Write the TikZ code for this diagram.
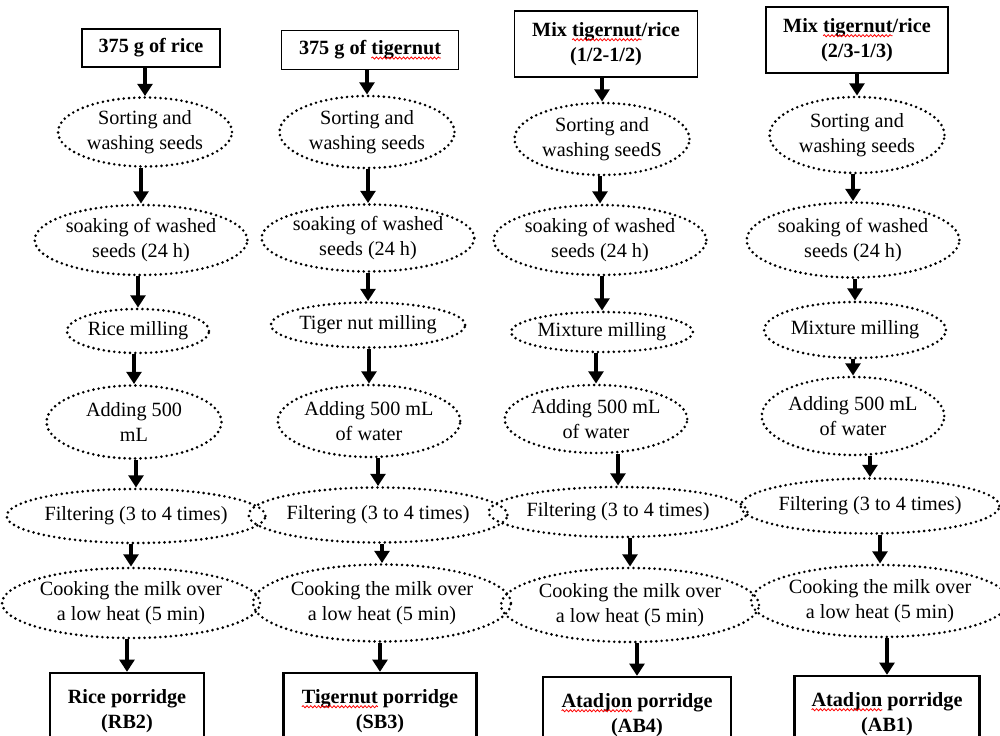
\documentclass[tikz,border=0pt]{standalone}
\usepackage{fontspec}
\setmainfont{Liberation Serif}
\usepackage{tikz}
\usetikzlibrary{shapes.geometric, arrows.meta, decorations.pathmorphing}
\newcommand{\spellmark}[1]{\tikz[baseline = (w.base)]{\node[rectangle, draw = none, minimum width = 0pt, minimum height = 0pt, inner sep = 0pt, outer sep = 0pt, font = \relax] (w) {#1};
  \draw[overlay, red, solid, line width = 0.45pt, decorate, decoration = {snake, amplitude = 0.6pt, segment length = 2.2pt}]
  ([yshift = -1.8pt]w.base west) -- ([yshift = -1.8pt]w.base east);}}

\begin{document}
\begin{tikzpicture}[
    x = 0.02cm, y = -0.02cm,
    every node/.style = {font = \fontsize{11.5}{14}\selectfont, align = center},
    box/.style = {draw, line width = 0.8pt, inner sep = 0pt, font = \fontsize{11.5}{14}\selectfont\bfseries},
    outbox/.style = {box, line width = 1.3pt},
    oval/.style = {ellipse, draw, inner sep = 0pt, line width = 1.65pt, dash pattern = on 0pt off 3pt, line cap = round},
    arr/.style = {line width = 2.3pt, -{Triangle[width = 8.5pt, length = 7pt]}},
]
\useasboundingbox (0,0) rectangle (1000,736);
\clip (0,0) rectangle (1000,736);

% rice
\node[box, minimum width = 2.76cm, minimum height = 0.76cm] (ri0) at (151, 48) {375 g of rice};
\node[oval, minimum width = 3.48cm, minimum height = 1.38cm] (ri1) at (145, 132) {Sorting and\\washing seeds};
\node[oval, minimum width = 3.74cm, minimum height = 1.40cm] (ri2) at (141, 240) {soaking of washed\\seeds (24 h)};
\node[oval, minimum width = 2.58cm, minimum height = 0.88cm] (ri3) at (138, 331) {Rice milling};
\node[oval, minimum width = 3.50cm, minimum height = 1.46cm] (ri4) at (134, 422) {Adding 500\\mL};
\node[oval, minimum width = 4.10cm, minimum height = 1.08cm] (ri5) at (136, 516) {Filtering (3 to 4 times)};
\node[oval, minimum width = 4.66cm, minimum height = 1.40cm] (ri6) at (131, 603) {Cooking the milk over\\a low heat (5 min)};
\node[outbox, minimum width = 3.08cm, minimum height = 1.52cm] (ri7) at (127, 711) {Rice porridge\\(RB2)};

% tigernut
\node[box, minimum width = 3.54cm, minimum height = 0.78cm] (tn0) at (370, 50) {375 g of \spellmark{tigernut}};
\node[oval, minimum width = 3.50cm, minimum height = 1.44cm] (tn1) at (367, 132) {Sorting and\\washing seeds};
\node[oval, minimum width = 3.74cm, minimum height = 1.34cm] (tn2) at (368, 238) {soaking of washed\\seeds (24 h)};
\node[oval, minimum width = 3.50cm, minimum height = 0.90cm] (tn3) at (368, 325) {Tiger nut milling};
\node[oval, minimum width = 3.48cm, minimum height = 1.44cm] (tn4) at (369, 421) {Adding 500 mL\\of water};
\node[oval, minimum width = 4.14cm, minimum height = 1.10cm] (tn5) at (378, 515) {Filtering (3 to 4 times)};
\node[oval, minimum width = 4.70cm, minimum height = 1.54cm] (tn6) at (382, 603) {Cooking the milk over\\a low heat (5 min)};
\node[outbox, minimum width = 3.86cm, minimum height = 1.52cm] (tn7) at (380, 711) {\spellmark{Tigernut} porridge\\(SB3)};

% mix 1/2-1/2
\node[box, minimum width = 3.66cm, minimum height = 1.32cm] (ma0) at (606, 44) {Mix \spellmark{tigernut}/rice\\(1/2-1/2)};
\node[oval, minimum width = 3.50cm, minimum height = 1.44cm] (ma1) at (602, 139) {Sorting and\\washing seedS};
\node[oval, minimum width = 3.72cm, minimum height = 1.40cm] (ma2) at (600, 240) {soaking of washed\\seeds (24 h)};
\node[oval, minimum width = 3.50cm, minimum height = 0.80cm] (ma3) at (602, 332) {Mixture milling};
\node[oval, minimum width = 3.50cm, minimum height = 1.36cm] (ma4) at (596, 419) {Adding 500 mL\\of water};
\node[oval, minimum width = 4.14cm, minimum height = 1.00cm] (ma5) at (618, 512) {Filtering (3 to 4 times)};
\node[oval, minimum width = 4.68cm, minimum height = 1.48cm] (ma6) at (630, 605) {Cooking the milk over\\a low heat (5 min)};
\node[outbox, minimum width = 3.76cm, minimum height = 1.52cm] (ma7) at (637, 715) {\spellmark{Atadjon} porridge\\(AB4)};

% mix 2/3-1/3
\node[box, minimum width = 3.64cm, minimum height = 1.32cm] (mb0) at (857, 40) {Mix \spellmark{tigernut}/rice\\(2/3-1/3)};
\node[oval, minimum width = 3.50cm, minimum height = 1.52cm] (mb1) at (857, 135) {Sorting and\\washing seeds};
\node[oval, minimum width = 3.72cm, minimum height = 1.50cm] (mb2) at (853, 240) {soaking of washed\\seeds (24 h)};
\node[oval, minimum width = 3.52cm, minimum height = 1.12cm] (mb3) at (855, 330) {Mixture milling};
\node[oval, minimum width = 3.48cm, minimum height = 1.56cm] (mb4) at (853, 416) {Adding 500 mL\\of water};
\node[oval, minimum width = 4.48cm, minimum height = 1.10cm] (mb5) at (870, 506) {Filtering (3 to 4 times)};
\node[oval, minimum width = 4.80cm, minimum height = 1.44cm] (mb6) at (880, 601) {Cooking the milk over\\a low heat (5 min)};
\node[outbox, minimum width = 3.70cm, minimum height = 1.52cm] (mb7) at (887, 714) {\spellmark{Atadjon} porridge\\(AB1)};

\foreach \c in {ri, tn, ma, mb}
  \foreach \i [count = \j from 1] in {0,...,6}
    \draw[arr] (\c\i.south -| \c\j.north) -- (\c\j.north);
\end{tikzpicture}
\end{document}
